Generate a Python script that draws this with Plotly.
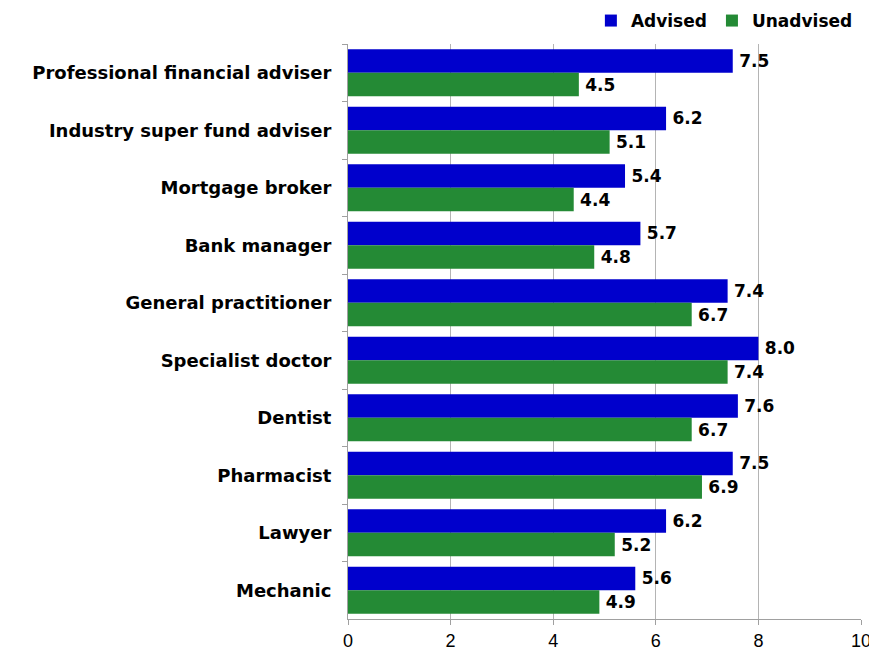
import plotly.graph_objects as go

categories = [
    "Professional financial adviser",
    "Industry super fund adviser",
    "Mortgage broker",
    "Bank manager",
    "General practitioner",
    "Specialist doctor",
    "Dentist",
    "Pharmacist",
    "Lawyer",
    "Mechanic",
]
advised = [7.5, 6.2, 5.4, 5.7, 7.4, 8.0, 7.6, 7.5, 6.2, 5.6]
unadvised = [4.5, 5.1, 4.4, 4.8, 6.7, 7.4, 6.7, 6.9, 5.2, 4.9]

BLUE = "#0000CC"
GREEN = "#248A35"
BOLD = "DejaVu Sans, Verdana, sans-serif"
PLAIN = "Liberation Sans, Arial, sans-serif"


def _bar(values, name, color):
    return go.Bar(
        y=categories,
        x=values,
        name=name,
        orientation="h",
        marker=dict(color=color, line=dict(width=0)),
        # thin space pushes the label a little off the bar end, like the original
        text=[f"\u2009{v:.1f}" for v in values],
        textposition="outside",
        textfont=dict(family=BOLD, size=17, color="black", weight="bold"),
        cliponaxis=False,
    )


fig = go.Figure(data=[_bar(advised, "Advised", BLUE), _bar(unadvised, "Unadvised", GREEN)])

# page body has an 8px margin, so the figure is a little smaller than the window
fig.update_layout(
    width=869,
    height=646,
    barmode="group",
    bargap=0.18,
    bargroupgap=0,
    plot_bgcolor="white",
    paper_bgcolor="white",
    margin=dict(l=340, r=16, t=36, b=35, autoexpand=False),
    font=dict(family=PLAIN, size=18, color="black"),
    legend=dict(
        orientation="h",
        xref="container",
        yref="paper",
        x=0.978,
        xanchor="right",
        y=1.04,
        yanchor="middle",
        font=dict(family=BOLD, size=17, weight="bold"),
        traceorder="normal",
        itemwidth=30,
        tracegroupgap=0,
    ),
    xaxis=dict(
        range=[0, 10],
        dtick=2,
        showgrid=True,
        gridcolor="#B4B4B4",
        gridwidth=1,
        zeroline=False,
        showline=True,
        linecolor="#A0A0A0",
        ticks="outside",
        ticklen=5,
        tickcolor="#A0A0A0",
        tickfont=dict(family=PLAIN, size=18),
        automargin=False,
    ),
    yaxis=dict(
        autorange="reversed",
        showline=True,
        linecolor="#A0A0A0",
        ticks="outside",
        tickson="boundaries",
        ticklen=5,
        tickcolor="#A0A0A0",
        tickfont=dict(family=BOLD, size=18, weight="bold"),
        ticklabelstandoff=12,
        automargin=False,
    ),
)

fig.write_html("out.html")
